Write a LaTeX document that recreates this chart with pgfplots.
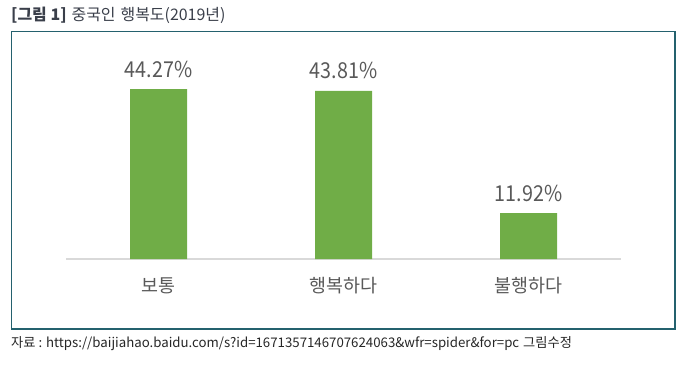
\documentclass[border=0pt]{standalone}
\usepackage{fontspec}
\setmainfont{Noto Sans CJK KR}
\newfontfamily\condfont[FakeStretch=0.9]{Noto Sans CJK KR}
\usepackage{pgfplots}
\pgfplotsset{compat=1.18}
\definecolor{barg}{HTML}{70AD47}
\definecolor{lbl}{HTML}{595959}
\definecolor{framec}{HTML}{24616E}
\definecolor{titlec}{HTML}{3A3F4A}
\begin{document}
\begin{tikzpicture}[x=1bp,y=1bp]
\path[use as bounding box] (0,0) rectangle (688,366);
\draw[framec, line width=1.3bp] (11.5,334.5) rectangle (675,37);
\node[anchor=west, inner sep=0pt, text=titlec, font=\fontsize{16}{19}\selectfont] at (11,351) {\textbf{[그림 1]}\hspace{5bp}중국인\hspace{5bp}행복도(2019년)};
\node[anchor=west, inner sep=0pt, text=black!85, font=\fontsize{13.3}{16}\selectfont] at (11,22) {자료 : https://baijiahao.baidu.com/s?id=1671357146707624063\&wfr=spider\&for=pc\hspace{4bp}그림수정};
\begin{axis}[
  at={(66bp,107bp)}, anchor=south west, scale only axis,
  width=555bp, height=192bp,
  xmin=-0.5, xmax=2.5, ymin=0, ymax=50,
  axis x line=bottom, axis y line=none,
  x axis line style={draw=black!15, line width=1.5bp, -},
  xtick=data, xticklabels={보통,행복하다,불행하다},
  major tick length=0pt,
  xticklabel style={font=\fontsize{18.5}{22}\selectfont, text=lbl, yshift=-15bp},
  ybar, bar width=57bp,
  /pgf/number format/assume math mode=true,
  nodes near coords={\pgfmathprintnumber[fixed,precision=2,fixed zerofill]{\pgfplotspointmeta}\%},
  nodes near coords style={font=\condfont\fontsize{22}{26}\selectfont, text=lbl, yshift=8bp},
]
\addplot[fill=barg, draw=none] coordinates {(0,44.27) (1,43.81) (2,11.92)};
\end{axis}
\end{tikzpicture}
\end{document}
